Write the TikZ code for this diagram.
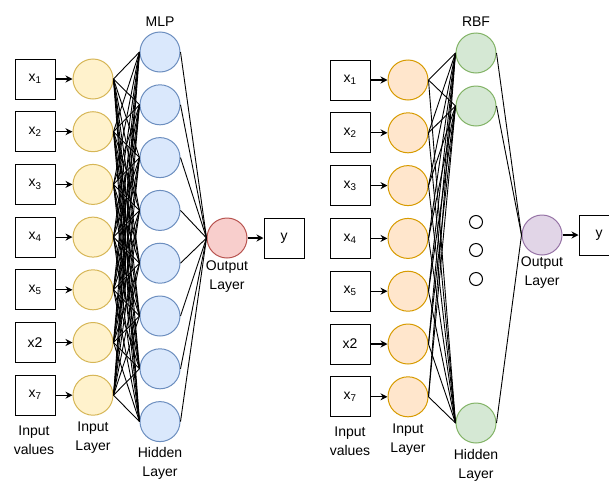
\documentclass[tikz,border=0pt]{standalone}
\usepackage{fontspec}
\setmainfont{Liberation Sans}
\usepackage{tikz}
\usetikzlibrary{arrows.meta, positioning}

\begin{document}
\begin{tikzpicture}[
    x=1pt, y=-1pt,
    every node/.style={font=\fontsize{14}{19}\selectfont},
    valbox/.style={rectangle, draw, line width=1pt, minimum width=40pt, minimum height=40pt, inner sep=0pt},
    neuron/.style={circle, line width=1pt, minimum size=40pt, inner sep=0pt},
    mlpin/.style={neuron, draw={rgb,255:red,214;green,182;blue,86}, fill={rgb,255:red,255;green,242;blue,204}},
    rbfin/.style={neuron, draw={rgb,255:red,215;green,155;blue,0}, fill={rgb,255:red,255;green,230;blue,204}},
    mlphid/.style={neuron, draw={rgb,255:red,108;green,142;blue,191}, fill={rgb,255:red,218;green,232;blue,252}},
    rbfhid/.style={neuron, draw={rgb,255:red,130;green,179;blue,102}, fill={rgb,255:red,213;green,232;blue,212}},
    mlpoutn/.style={neuron, draw={rgb,255:red,184;green,84;blue,80}, fill={rgb,255:red,248;green,206;blue,204}},
    rbfoutn/.style={neuron, draw={rgb,255:red,150;green,115;blue,166}, fill={rgb,255:red,225;green,213;blue,231}},
    dotn/.style={circle, draw, line width=1pt, minimum size=13pt, inner sep=0pt},
    caption/.style={align=center},
    arrow/.style={-{Stealth[length=7pt, width=7pt]}, line width=1.2pt},
    link/.style={line width=0.9pt}
]
    \useasboundingbox (0,0) rectangle (609,482);

    % MLP network
    \node (mlptitle) at (160,22) {MLP};
    \foreach \i/\lbl in {1/x\textsubscript{1}, 2/x\textsubscript{2}, 3/x\textsubscript{3}, 4/x\textsubscript{4}, 5/x\textsubscript{5}, 6/x2, 7/x\textsubscript{7}} {
        \node[valbox] (mlpx\i) at (35, {79+52.7*(\i-1)}) {\lbl};
        \node[mlpin] (mlpin\i) at (93, {79+52.7*(\i-1)}) {};
        \draw[arrow] (mlpx\i.east) -- (mlpin\i.west);
    }
    \foreach \j in {1,...,8}
        \node[mlphid] (mlphid\j) at (160, {52+52.8*(\j-1)}) {};
    \node[mlpoutn] (mlpout) at (227,238) {};
    \node[valbox] (mlpy) at (284,238) {y};

    \foreach \i in {1,...,7}
        \foreach \j in {1,...,8}
            \draw[link] (mlpin\i.east) -- (mlphid\j.west);
    \foreach \j in {1,...,8}
        \draw[link] (mlphid\j.east) -- (mlpout.west);
    \draw[arrow] (mlpout.east) -- (mlpy.west);

    \node[caption] (mlpvalues) at (34,440) {Input\\values};
    \node[caption] (mlpinlabel) at (93,438) {Input\\Layer};
    \node[caption] (mlphidlabel) at (160,463) {Hidden\\Layer};
    \node[caption] (mlpoutlabel) at (227,277) {Output\\Layer};

    % RBF network
    \node (rbftitle) at (476,22) {RBF};
    \foreach \i/\lbl in {1/x\textsubscript{1}, 2/x\textsubscript{2}, 3/x\textsubscript{3}, 4/x\textsubscript{4}, 5/x\textsubscript{5}, 6/x2, 7/x\textsubscript{7}} {
        \node[valbox] (rbfx\i) at (350, {80+52.8*(\i-1)}) {\lbl};
        \node[rbfin] (rbfin\i) at (408, {80+52.8*(\i-1)}) {};
        \draw[arrow] (rbfx\i.east) -- (rbfin\i.west);
    }
    \node[rbfhid] (rbfhid1) at (476,53) {};
    \node[rbfhid] (rbfhid2) at (476,106) {};
    \node[rbfhid] (rbfhid3) at (476,423) {};
    \node[dotn] (rbfdot1) at (476,222) {};
    \node[dotn] (rbfdot2) at (476,250) {};
    \node[dotn] (rbfdot3) at (476,279) {};
    \node[rbfoutn] (rbfout) at (542,235) {};
    \node[valbox] (rbfy) at (599,235) {y};

    \foreach \i in {1,...,7}
        \foreach \j in {1,2,3}
            \draw[link] (rbfin\i.east) -- (rbfhid\j.west);
    \foreach \j in {1,2,3}
        \draw[link] (rbfhid\j.east) -- (rbfout.west);
    \draw[arrow] (rbfout.east) -- (rbfy.west);

    \node[caption] (rbfvalues) at (350,441) {Input\\values};
    \node[caption] (rbfinlabel) at (408,440) {Input\\Layer};
    \node[caption] (rbfhidlabel) at (476,465) {Hidden\\Layer};
    \node[caption] (rbfoutlabel) at (542,273) {Output\\Layer};
\end{tikzpicture}
\end{document}
